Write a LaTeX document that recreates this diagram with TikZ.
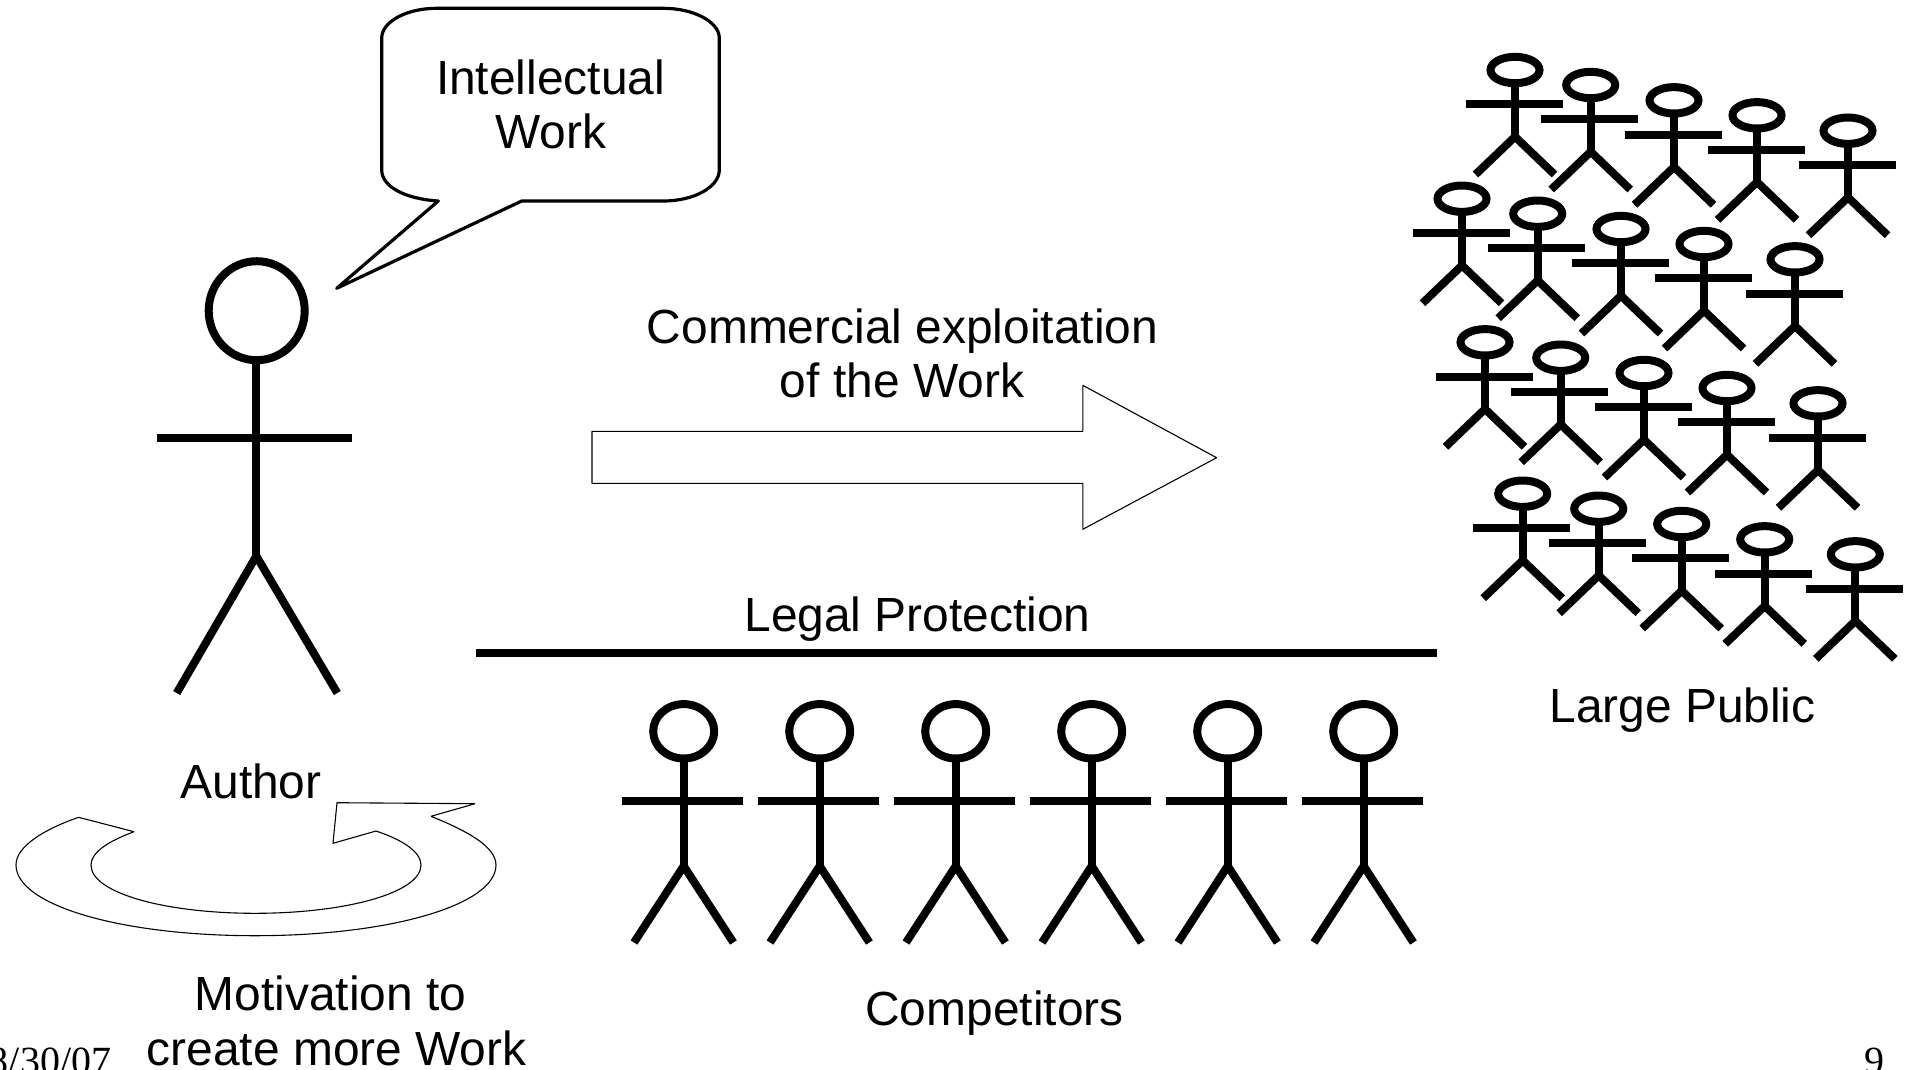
\documentclass[tikz,border=0pt]{standalone}
\usepackage{fontspec}
\setmainfont{Liberation Sans}
\newfontfamily\footfont{Liberation Serif}
\tikzset{
  x=1pt,y=-1pt,
  label text/.style={inner sep=0pt,anchor=base,font=\fontsize{47.9}{55}\selectfont},
  foot text/.style={inner sep=0pt,anchor=base,font=\footfont\fontsize{40}{46}\selectfont},
  thin outline/.style={draw=black,line width=1.1pt,line join=bevel,fill=white},
  figure line/.style={draw=black,line cap=butt,line join=miter},
  small figure/.style={figure line,line width=8pt},
}
% small crowd figure: head centre #1,#2
\newcommand{\crowdfig}[2]{%
  \draw[small figure] (#1,#2) ellipse [x radius=24.5,y radius=13.2];
  \draw[small figure] (#1,#2+13.2) -- (#1,#2+66.7);
  \draw[small figure] (#1-49.5,#2+34.2) -- (#1+47.5,#2+34.2);
  \draw[small figure] (#1-39.5,#2+104.5) -- (#1,#2+66.7) -- (#1+39.5,#2+104.5);
}
% competitor figure
\newcommand{\rivalfig}[1]{%
  \draw[small figure] (#1,731.3) ellipse [x radius=30.5,y radius=27.2];
  \draw[small figure] (#1,758.5) -- (#1,866);
  \draw[small figure] (#1-62,801.3) -- (#1+59.6,801.3);
  \draw[small figure] (#1-49.7,942.5) -- (#1,866) -- (#1+49.7,942.5);
}
\begin{document}
\begin{tikzpicture}
\useasboundingbox (0,0) rectangle (1914,1069);
\clip (0,0) rectangle (1914,1069);
\fill[white] (0,0) rectangle (1914,1069);

% speech bubble
\draw[draw=black,line width=3.2pt,line join=round,fill=white]
  (438.3,201) -- (336.7,288.3) -- (521.7,201) -- (663.3,201)
  .. controls (694,201) and (719.3,187) .. (719.3,170)
  -- (719.3,38)
  .. controls (719.3,22) and (694,8.3) .. (663.3,8.3)
  -- (436.7,8.3)
  .. controls (406,8.3) and (381.7,22) .. (381.7,38)
  -- (381.7,170)
  .. controls (381.7,187) and (406,199) .. (438.3,201) -- cycle;
\node[label text] (work1) at (550.5,94) {Intellectual};
\node[label text] (work2) at (550.5,148.7) {Work};

% author
\draw[figure line,line width=8pt] (256.7,310.7) ellipse [x radius=48,y radius=49.5];
\draw[small figure] (256.3,360.2) -- (256.3,556);
\draw[small figure] (157.3,437.7) -- (352,437.7);
\draw[small figure] (176.7,693) -- (256.3,556) -- (337.3,693);
\node[label text] (author) at (251,798) {Author};

% circular arrow
\draw[thin outline]
  (78.6,817.3) .. controls (45,829) and (16,846) .. (16,865)
  .. controls (16,905) and (120,935.7) .. (255,935.7)
  .. controls (390,935.7) and (496,905) .. (496,865)
  .. controls (496,846) and (465,830) .. (431,816.3)
  -- (475,803.7) -- (337,802.7) -- (333,843.3) -- (376,831)
  .. controls (403,840) and (421,852) .. (421,865)
  .. controls (421,893) and (345,913.3) .. (255,913.3)
  .. controls (165,913.3) and (91,893) .. (91,865)
  .. controls (91,852) and (109,841) .. (134,831.7) -- cycle;

% big arrow
\draw[thin outline]
  (592,431.3) -- (1082.8,431.3) -- (1082.8,385.3) -- (1216.6,457.7)
  -- (1082.8,529.3) -- (1082.8,483.3) -- (592,483.3) -- cycle;
\node[label text] (comm1) at (902.5,343.5) {Commercial exploitation};
\node[label text] (comm2) at (902,397.3) {of the Work};

% legal line
\node[label text] (legal) at (917.5,631) {Legal Protection};
\coordinate (legalA) at (476,653.2);
\coordinate (legalB) at (1437,653.2);
\draw[draw=black,line width=7.5pt] (legalA) -- (legalB);

% competitors
\rivalfig{683.7}\rivalfig{819.7}\rivalfig{955.7}\rivalfig{1091.7}\rivalfig{1227.7}\rivalfig{1363.7}
\node[label text] (comp) at (994.5,1025) {Competitors};

% crowd
\crowdfig{1515}{70}\crowdfig{1590.7}{85}\crowdfig{1674}{100.3}\crowdfig{1757}{115.3}\crowdfig{1848}{130.7}
\crowdfig{1462}{198.7}\crowdfig{1537.7}{213.7}\crowdfig{1621}{229}\crowdfig{1704}{244}\crowdfig{1795}{259.3}
\crowdfig{1485}{342.3}\crowdfig{1560.7}{357.7}\crowdfig{1644}{373}\crowdfig{1727}{388}\crowdfig{1818}{403.3}
\crowdfig{1522.7}{493.7}\crowdfig{1598.7}{508.7}\crowdfig{1681.7}{524}\crowdfig{1764.7}{539.3}\crowdfig{1855.3}{554.3}
\node[label text] (public) at (1682.5,722) {Large Public};

% motivation
\node[label text] (mot1) at (330.5,1010.8) {Motivation to};
\node[label text] (mot2) at (336.6,1065) {create more Work};

% footer
\node[foot text] (date) at (50,1074.5) {8/30/07};
\node[foot text] (page) at (1874.5,1074.5) {9};
\end{tikzpicture}
\end{document}
